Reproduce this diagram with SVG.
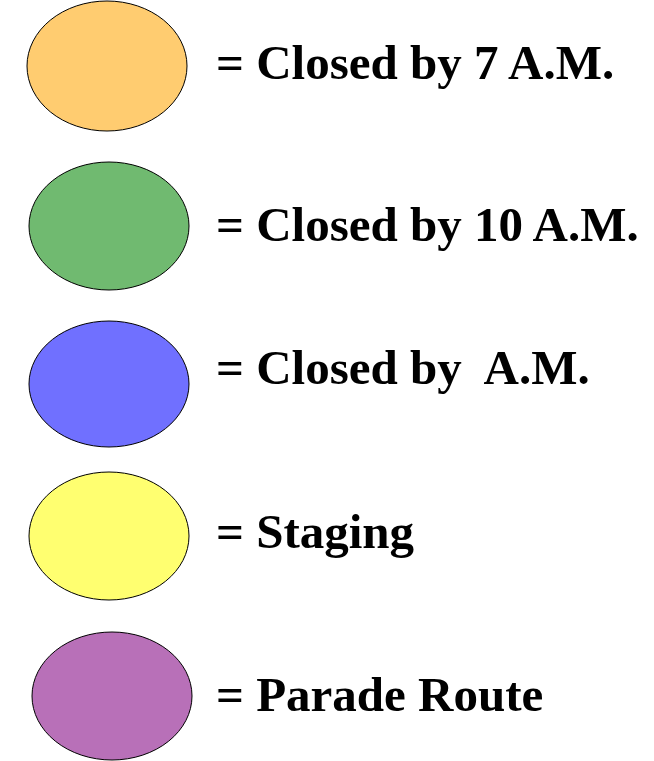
<svg xmlns="http://www.w3.org/2000/svg" width="654" height="761" viewBox="0 0 654 761">
<style>
.e{stroke:#000;stroke-width:1}
.t{font-family:"Liberation Serif","Times New Roman",serif;font-weight:bold;font-size:49px;fill:#000;white-space:pre}
</style>
<rect width="654" height="761" fill="#fff"/>
<g id="n1"><ellipse class="e" cx="107" cy="66" rx="80" ry="65" fill="#FFCC70"/><text class="t" x="216" y="79">= Closed by 7 A.M.</text></g>
<g id="n2"><ellipse class="e" cx="109" cy="226" rx="80" ry="64" fill="#70BA70"/><text class="t" x="216" y="241">= Closed by 10 A.M.</text></g>
<g id="n3"><ellipse class="e" cx="109" cy="384" rx="80" ry="63" fill="#7070FF"/><text class="t" x="216" y="384" xml:space="preserve">= Closed by  A.M.</text></g>
<g id="n4"><ellipse class="e" cx="109" cy="536" rx="80" ry="64" fill="#FFFF70"/><text class="t" x="216" y="548">= Staging</text></g>
<g id="n5"><ellipse class="e" cx="112" cy="696" rx="80" ry="64" fill="#B870B8"/><text class="t" x="216" y="711">= Parade Route</text></g>
<g id="connectors"/>
</svg>
